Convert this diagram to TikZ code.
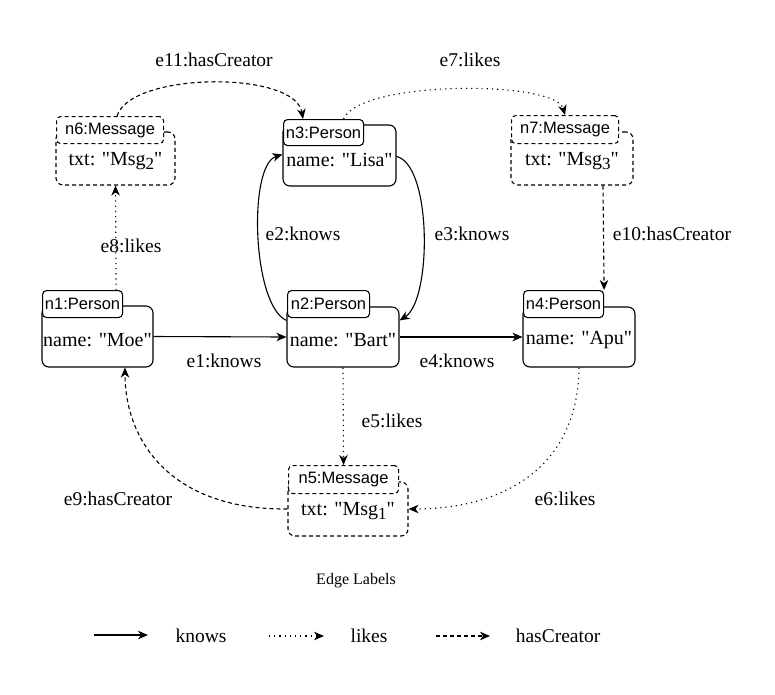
\documentclass[tikz,border=0pt]{standalone}
\usepackage{fontspec}
\setmainfont{Liberation Serif}
\newfontfamily\tabfont{Liberation Sans}
\usetikzlibrary{arrows.meta,calc}
\newcommand{\msgsub}[1]{\raisebox{-0.45ex}{\fontsize{17}{17}\selectfont #1}}
\newcommand{\dq}{\textquotedbl}
\begin{document}
\begin{tikzpicture}[x=1pt,y=-1pt,
  line width=1.1pt,
  ent/.style={draw, rounded corners=7pt, inner sep=0pt},
  msgbox/.style={ent, dash pattern=on 4pt off 3pt},
  tabbox/.style={draw, fill=white, rounded corners=4pt, inner sep=0pt, anchor=north west,
    font=\tabfont\fontsize{16.5}{18}\selectfont},
  msgtab/.style={tabbox, dash pattern=on 4pt off 3pt},
  val/.style={inner sep=0pt, font=\fontsize{20}{22}\selectfont},
  elabel/.style={inner sep=0pt, font=\fontsize{19.5}{21}\selectfont},
  tip/.style={-{Stealth[length=10pt,width=8.5pt,inset=3pt]}},
  knowsedge/.style={tip},
  likesedge/.style={tip, dash pattern=on 1.2pt off 4pt},
  creatoredge/.style={tip, dash pattern=on 4pt off 3pt}]

\useasboundingbox (0,0) rectangle (775,694);

% ---- Person nodes ----
\node[ent, minimum width=111pt, minimum height=61pt] (n1) at (97.5,336.5) {};
\node[tabbox, minimum width=80pt, minimum height=27pt] (n1t) at (42,290) {n1:Person};
\node[val] (n1v) at (97.5,340) {name: \dq Moe\dq};

\node[ent, minimum width=112pt, minimum height=60pt] (n2) at (343,337) {};
\node[tabbox, minimum width=82pt, minimum height=27pt] (n2t) at (287,290) {n2:Person};
\node[val] (n2v) at (343,340) {name: \dq Bart\dq};

\node[ent, minimum width=113pt, minimum height=61pt] (n3) at (339.5,155.5) {};
\node[tabbox, minimum width=80pt, minimum height=26pt] (n3t) at (283,119) {n3:Person};
\node[val] (n3v) at (339.5,160) {name: \dq Lisa\dq};

\node[ent, minimum width=112pt, minimum height=60pt] (n4) at (579,337) {};
\node[tabbox, minimum width=80pt, minimum height=27pt] (n4t) at (523,290) {n4:Person};
\node[val] (n4v) at (579,340) {name: \dq Apu\dq};

% ---- Message nodes ----
\node[msgbox, minimum width=120pt, minimum height=54pt] (n5) at (348,509) {};
\node[msgtab, minimum width=110pt, minimum height=28pt] (n5t) at (288,465) {n5:Message};
\node[val] (n5v) at (348,511) {txt: \dq Msg\msgsub{1}\dq};

\node[msgbox, minimum width=119pt, minimum height=53pt] (n6) at (115.5,158.5) {};
\node[msgtab, minimum width=107pt, minimum height=27pt] (n6t) at (56,116) {n6:Message};
\node[val] (n6v) at (115.5,161) {txt: \dq Msg\msgsub{2}\dq};

\node[msgbox, minimum width=122pt, minimum height=53pt] (n7) at (572,158.5) {};
\node[msgtab, minimum width=107pt, minimum height=28pt] (n7t) at (511,115) {n7:Message};
\node[val] (n7v) at (572,161) {txt: \dq Msg\msgsub{3}\dq};

% ---- knows edges ----
\draw[knowsedge] (n1.east) -- (n2.west);
\draw[knowsedge] (n2.east) -- (n4.west);
\draw[knowsedge] ($(n2.north west)+(0,14)$) .. controls (252,305) and (248,165) .. ($(n3.north west)+(0,30)$);
\draw[knowsedge] ($(n3.north east)+(0,32)$) .. controls (432,165) and (432,300) .. ($(n2.north east)+(0,14)$);

% ---- likes edges ----
\draw[likesedge] (n2.south) -- (n5t.north);
\draw[likesedge] (n4.south) .. controls (578,470) and (500,509) .. (n5.east);
\draw[likesedge] ($(n1t.north east)+(-7,0)$) -- (n6.south);
\draw[likesedge] ($(n3t.north)+(20,0)$) .. controls (360,80) and (555,80) .. (n7t.north);

% ---- hasCreator edges ----
\draw[creatoredge] (n5.west) .. controls (170,510) and (125,440) .. ($(n1.south)+(27.5,0)$);
\draw[creatoredge] ($(n6t.north)+(7,0)$) .. controls (130,72) and (295,70) .. ($(n3t.north west)+(20,0)$);
\draw[creatoredge] ($(n7.south)+(31,0)$) -- (n4t.north east);

% ---- edge labels ----
\node[elabel] (l1) at (224,361) {e1:knows};
\node[elabel] (l2) at (303,234) {e2:knows};
\node[elabel] (l3) at (472,234) {e3:knows};
\node[elabel] (l4) at (457,361) {e4:knows};
\node[elabel] (l5) at (392,421) {e5:likes};
\node[elabel] (l6) at (565,499) {e6:likes};
\node[elabel] (l7) at (470,60) {e7:likes};
\node[elabel] (l8) at (131,246) {e8:likes};
\node[elabel] (l9) at (118,499) {e9:hasCreator};
\node[elabel] (l10) at (672,234) {e10:hasCreator};
\node[elabel] (l11) at (214,60) {e11:hasCreator};

% ---- legend ----
\node[inner sep=0pt, font=\fontsize{16}{18}\selectfont] (legtitle) at (356,581) {Edge Labels};
\coordinate (ka) at (94,635);  \coordinate (kb) at (148,635);
\coordinate (la) at (269,636); \coordinate (lb) at (324,636);
\coordinate (ca) at (436,636); \coordinate (cb) at (490,636);
\draw[knowsedge] (ka) -- (kb);
\draw[likesedge] (la) -- (lb);
\draw[creatoredge] (ca) -- (cb);
\node[elabel] (legk) at (201,636) {knows};
\node[elabel] (legl) at (369,636) {likes};
\node[elabel] (legc) at (558,636) {hasCreator};
\end{tikzpicture}
\end{document}
